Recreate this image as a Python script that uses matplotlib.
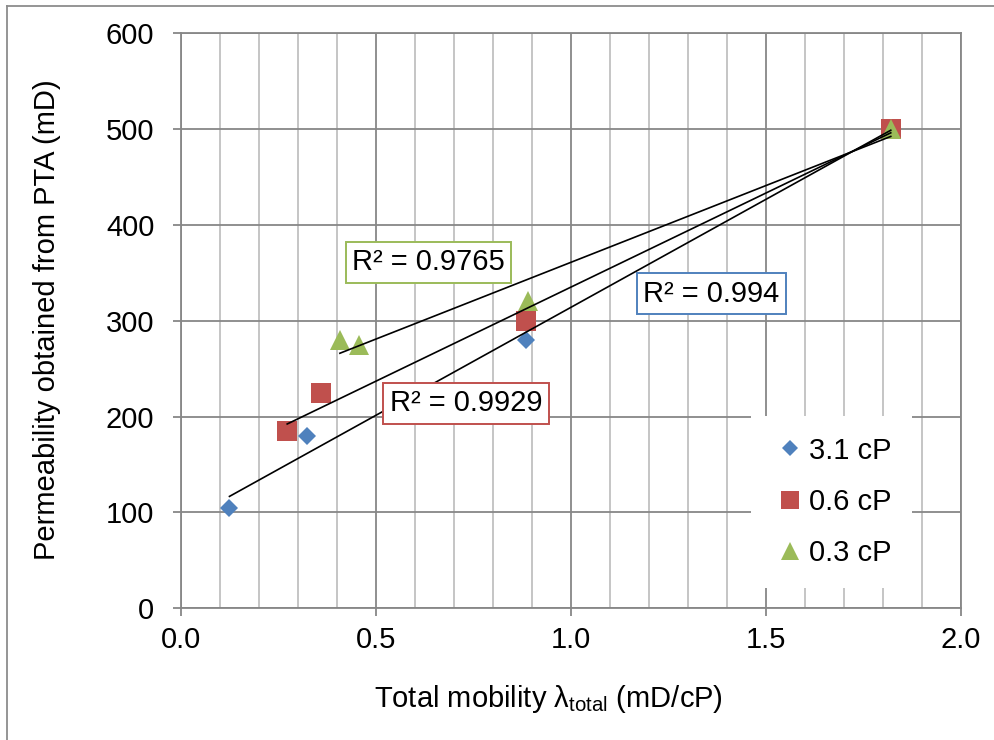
import numpy as np
import matplotlib
matplotlib.use("Agg")
import matplotlib.pyplot as plt
from matplotlib.lines import Line2D
from matplotlib.ticker import MultipleLocator, FormatStrFormatter

plt.rcParams['font.family'] = ['Liberation Sans', 'DejaVu Sans']
plt.rcParams['mathtext.fontset'] = 'custom'
plt.rcParams['mathtext.rm'] = 'Liberation Sans'
plt.rcParams['mathtext.it'] = 'Liberation Sans:italic'

# Total mobility (mD/cP) and PTA permeability (mD) for each oil viscosity
labels = ["3.1 cP", "0.6 cP", "0.3 cP"]
mob_31 = [0.125, 0.325, 0.885, 1.82]
perm_31 = [105, 180, 280, 500]
mob_06 = [0.273, 0.36, 0.886, 1.82]
perm_06 = [185, 225, 300, 500]
mob_03 = [0.408, 0.456, 0.89, 1.82]
perm_03 = [280, 275, 320, 500]
r2_text = ["R² = 0.994", "R² = 0.9929", "R² = 0.9765"]

colors = ["#4F81BD", "#C0504D", "#9BBB59"]
markers = ["D", "s", "^"]
msizes = [9.5, 14, 14.5]
# label box centres (data coords)
box_xy = [(1.36, 328), (0.731, 214), (0.635, 361)]

FS = 21

fig = plt.figure(figsize=(9.94, 7.40), dpi=100)
ax = fig.add_axes([180.7 / 994, 1 - 608.3 / 740, 780.3 / 994, 575.3 / 740])

ax.set_xlim(0, 2.0)
ax.set_ylim(0, 600)
ax.xaxis.set_major_locator(MultipleLocator(0.5))
ax.xaxis.set_minor_locator(MultipleLocator(0.1))
ax.yaxis.set_major_locator(MultipleLocator(100))
ax.xaxis.set_major_formatter(FormatStrFormatter("%.1f"))

grid_major = "#878787"
grid_minor = "#C0C0C0"
ax.grid(which="minor", axis="x", color=grid_minor, lw=1.3, zorder=0)
ax.grid(which="major", axis="x", color=grid_major, lw=1.3, zorder=0)
ax.grid(which="major", axis="y", color=grid_major, lw=1.3, zorder=0)
ax.set_axisbelow(True)
for s in ax.spines.values():
    s.set_color(grid_major)
    s.set_linewidth(1.3)

ax.tick_params(which="major", direction="out", length=6, width=1.3,
               color=grid_major, labelsize=FS)
ax.tick_params(which="minor", length=0)
ax.tick_params(axis="y", pad=13)
ax.tick_params(axis="x", pad=7)

series = [(mob_31, perm_31), (mob_06, perm_06), (mob_03, perm_03)]
handles = []
for (x, y), c, m, ms, lab in zip(series, colors, markers, msizes, labels):
    h, = ax.plot(x, y, linestyle="none", marker=m, markersize=ms,
                 color=c, markeredgewidth=0, label=lab, zorder=3)
    handles.append(h)

# linear trendlines across each series' range
for (x, y) in series:
    x = np.asarray(x, float)
    y = np.asarray(y, float)
    k, b = np.polyfit(x, y, 1)
    xs = np.array([x.min(), x.max()])
    ax.plot(xs, k * xs + b, color="black", lw=1.2, zorder=4)

for txt, c, (bx, by) in zip(r2_text, colors, box_xy):
    ax.text(bx, by, txt, fontsize=FS, ha="center", va="center", zorder=6,
            bbox=dict(boxstyle="square,pad=0.22", facecolor="white",
                      edgecolor=c, linewidth=1.4))

leg = ax.legend(handles=handles, loc="upper left",
                bbox_to_anchor=(0.731, 0.334), fontsize=FS,
                frameon=True, facecolor="white", edgecolor="none",
                framealpha=1, fancybox=False, handlelength=1.3,
                handletextpad=0.0, labelspacing=0.8, borderpad=0.7,
                markerscale=0.9, borderaxespad=0)
leg.set_zorder(7)

fig.text(47 / 994, 1 - 320 / 740, "Permeability obtained from PTA (mD)",
         fontsize=FS, rotation=90, ha="center", va="center")
fig.text(548 / 994, 1 - 707 / 740, r"Total mobility λ$_{\mathrm{total}}$ (mD/cP)",
         fontsize=FS, ha="center", va="baseline")

# chart-area frame
fig.add_artist(Line2D([7 / 994, 1.0], [1 - 6 / 740, 1 - 6 / 740],
                      color="#8C8C8C", lw=1.3, transform=fig.transFigure))
fig.add_artist(Line2D([7 / 994, 7 / 994], [0, 1 - 6 / 740],
                      color="#8C8C8C", lw=1.3, transform=fig.transFigure))

fig.savefig("out.png", dpi=100)
